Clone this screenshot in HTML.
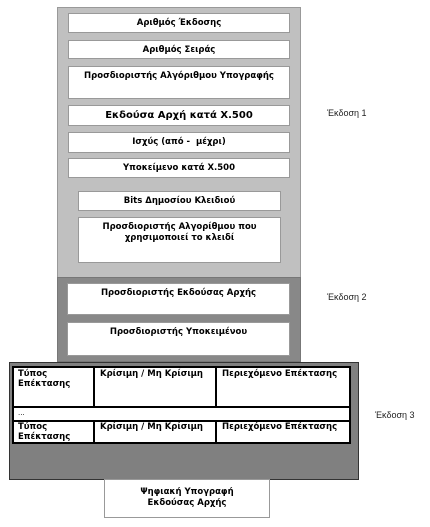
<!DOCTYPE html>
<html><head><meta charset="utf-8"><style>
body{margin:0;width:430px;height:527px;background:#fff;position:relative;font-family:"DejaVu Sans","Liberation Sans",sans-serif;overflow:hidden}
div{position:absolute;box-sizing:border-box}
.b{background:#fff;border:1px solid #999;font-weight:bold;font-size:8.5px;text-align:center;color:#000;padding-top:4px;line-height:11px}
.l{font-size:9px;color:#222;font-family:"Liberation Sans",sans-serif}
.c{position:absolute;font-weight:bold;font-size:8.5px;line-height:10px;padding:0 0 0 4px}
</style></head><body>
<div style="left:57px;top:7px;width:244px;height:271px;background:#c0c0c0;border:1px solid #999"></div>
<div style="left:57px;top:277px;width:244px;height:85px;background:#888;border:1px solid #777"></div>
<div class="b" style="left:68px;top:13px;width:222px;height:20px">Αριθμός Έκδοσης</div>
<div class="b" style="left:68px;top:40px;width:222px;height:19px">Αριθμός Σειράς</div>
<div class="b" style="left:68px;top:66px;width:222px;height:33px">Προσδιοριστής Αλγόριθμου Υπογραφής</div>
<div class="b" style="left:68px;top:105px;width:222px;height:21px;font-size:10px">Εκδούσα Αρχή κατά Χ.500</div>
<div class="b" style="left:68px;top:132px;width:222px;height:21px">Ισχύς (από -&nbsp; μέχρι)</div>
<div class="b" style="left:68px;top:158px;width:222px;height:20px">Υποκείμενο κατά Χ.500</div>
<div class="b" style="left:78px;top:191px;width:203px;height:20px">Bits Δημοσίου Κλειδιού</div>
<div class="b" style="left:78px;top:217px;width:203px;height:46px">Προσδιοριστής Αλγορίθμου που<br>χρησιμοποιεί το κλειδί</div>
<div class="b" style="left:67px;top:283px;width:223px;height:32px">Προσδιοριστής Εκδούσας Αρχής</div>
<div class="b" style="left:67px;top:322px;width:223px;height:34px">Προσδιοριστής Υποκειμένου</div>
<div style="left:9px;top:362px;width:350px;height:118px;background:#808080;border:1px solid #333"></div>
<div style="left:12px;top:366px;width:339px;height:78px;background:#fff;border:2px solid #000">
 <div style="left:0;top:38px;width:335px;height:2px;background:#000"></div>
 <div style="left:0;top:52px;width:335px;height:2px;background:#000"></div>
 <div style="left:79px;top:0;width:2px;height:38px;background:#000"></div>
 <div style="left:201px;top:0;width:2px;height:38px;background:#000"></div>
 <div style="left:79px;top:54px;width:2px;height:20px;background:#000"></div>
 <div style="left:201px;top:54px;width:2px;height:20px;background:#000"></div>
 <div class="c" style="left:0;top:1px">Τύπος<br>Επέκτασης</div>
 <div class="c" style="left:82px;top:1px">Κρίσιμη / Μη Κρίσιμη</div>
 <div class="c" style="left:204px;top:1px">Περιεχόμενο Επέκτασης</div>
 <div class="c" style="left:0;top:40px;font-weight:normal;font-size:7px">...</div>
 <div class="c" style="left:0;top:54px">Τύπος<br>Επέκτασης</div>
 <div class="c" style="left:82px;top:54px">Κρίσιμη / Μη Κρίσιμη</div>
 <div class="c" style="left:204px;top:54px">Περιεχόμενο Επέκτασης</div>
</div>
<div class="b" style="left:104px;top:479px;width:166px;height:39px;padding-top:7px">Ψηφιακή Υπογραφή<br>Εκδούσας Αρχής</div>
<div class="l" style="left:327px;top:108px">Έκδοση 1</div>
<div class="l" style="left:327px;top:292px">Έκδοση 2</div>
<div class="l" style="left:375px;top:410px">Έκδοση 3</div>
</body></html>
